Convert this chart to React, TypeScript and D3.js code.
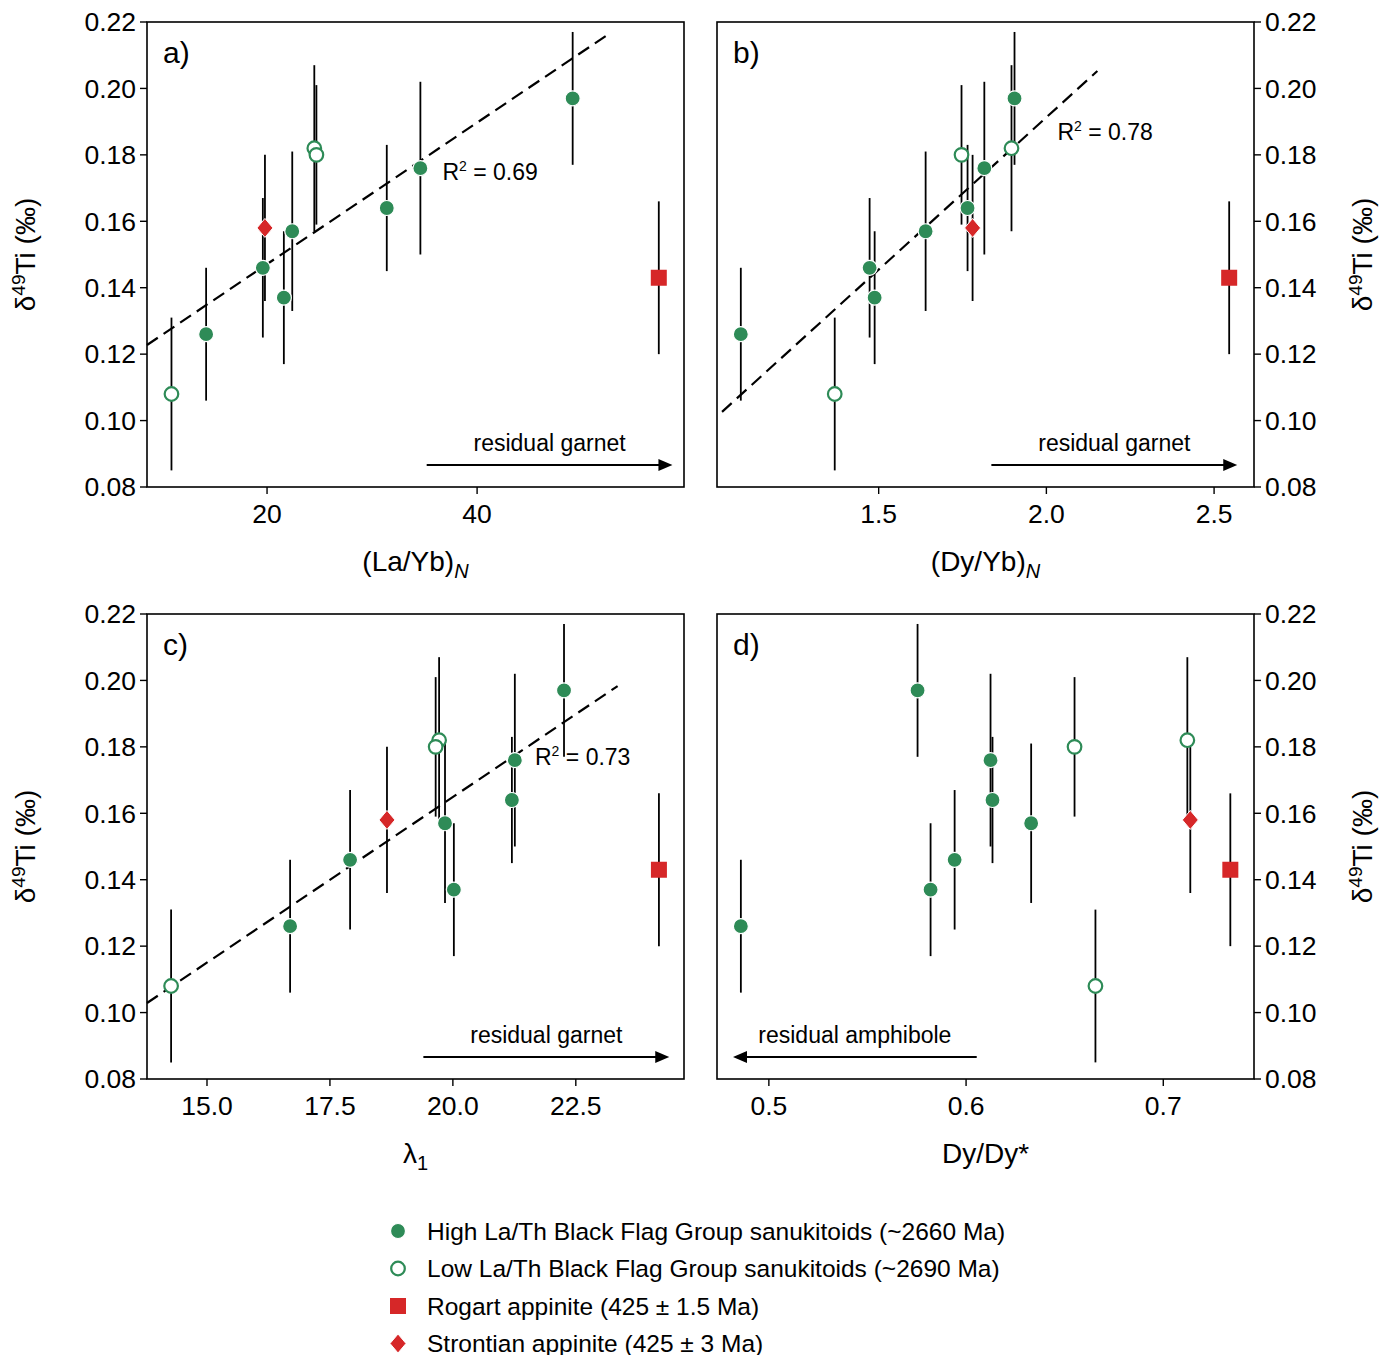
import * as React from "react";
import * as d3 from "d3";

// sample order: S1..S7 (high La/Th), O1..O3 (low La/Th), R (Rogart), D (Strontian)
const groups = ["high","high","high","high","high","high","high","low","low","low","rogart","strontian"];
const d49Ti = [0.126,0.146,0.137,0.157,0.164,0.176,0.197,0.108,0.182,0.180,0.143,0.158];
const errLo = [0.106,0.125,0.117,0.133,0.145,0.150,0.177,0.085,0.157,0.159,0.120,0.136];
const errHi = [0.146,0.167,0.157,0.181,0.183,0.202,0.217,0.131,0.207,0.201,0.166,0.180];
const laYb = [14.2,19.6,21.6,22.4,31.4,34.6,49.1,10.9,24.5,24.7,57.3,19.8];
const dyYb = [1.089,1.473,1.488,1.640,1.765,1.815,1.905,1.369,1.896,1.747,2.545,1.780];
const lambda1 = [16.69,17.91,20.02,19.84,21.20,21.26,22.26,14.27,19.72,19.65,24.19,18.66];
const dyDy = [0.4858,0.5942,0.582,0.633,0.6134,0.6124,0.5754,0.6656,0.7122,0.655,0.734,0.7137];
const yTicks = [0.08,0.10,0.12,0.14,0.16,0.18,0.20,0.22];
const legendLabels = [
  "High La/Th Black Flag Group sanukitoids (~2660 Ma)",
  "Low La/Th Black Flag Group sanukitoids (~2690 Ma)",
  "Rogart appinite (425 ± 1.5 Ma)",
  "Strontian appinite (425 ± 3 Ma)",
];
const legendGroups = ["high","low","rogart","strontian"];

const GREEN = "#2e8b57";
const RED = "#d62728";
const FONT = "Liberation Sans, Arial, sans-serif";

const panels = [
  { id: "a)", xs: laYb, dom: [8.57, 59.7], ticks: [20, 40], fmt: (v: number) => String(v), left: 147, top: 22, rightAxis: false,
    fit: { x: [8.57, 52.5], m: 0.00213, b: 0.1045 }, r2: "0.69", r2pos: [36.7, 0.1725], xl: "(La/Yb)", sub: "N", subItalic: true,
    arrow: { from: 35.2, to: 58.6, text: "residual garnet" } },
  { id: "b)", xs: dyYb, dom: [1.018, 2.619], ticks: [1.5, 2.0, 2.5], fmt: (v: number) => v.toFixed(1), left: 717, top: 22, rightAxis: true,
    fit: { x: [1.033, 2.152], m: 0.0917, b: 0.0079 }, r2: "0.78", r2pos: [2.033, 0.1845], xl: "(Dy/Yb)", sub: "N", subItalic: true,
    arrow: { from: 1.836, to: 2.569, text: "residual garnet" } },
  { id: "c)", xs: lambda1, dom: [13.78, 24.7], ticks: [15, 17.5, 20, 22.5], fmt: (v: number) => v.toFixed(1), left: 147, top: 614, rightAxis: false,
    fit: { x: [13.78, 23.35], m: 0.00997, b: -0.0345 }, r2: "0.73", r2pos: [21.67, 0.1745], xl: "λ", sub: "1", subItalic: false,
    arrow: { from: 19.4, to: 24.4, text: "residual garnet" } },
  { id: "d)", xs: dyDy, dom: [0.4737, 0.746], ticks: [0.5, 0.6, 0.7], fmt: (v: number) => v.toFixed(1), left: 717, top: 614, rightAxis: true,
    fit: null, r2: null, r2pos: null, xl: "Dy/Dy*", sub: "", subItalic: false,
    arrow: { from: 0.6054, to: 0.4818, text: "residual amphibole" } },
];

const W = 537, H = 465;

function Marker({ g, x, y }: { g: string; x: number; y: number }) {
  if (g === "high") return <circle cx={x} cy={y} r={7.5} fill={GREEN} stroke="white" strokeWidth={1.2} />;
  if (g === "low") return <circle cx={x} cy={y} r={6.8} fill="white" stroke={GREEN} strokeWidth={2.2} />;
  if (g === "rogart") return <rect x={x - 8} y={y - 8} width={16} height={16} fill={RED} />;
  return <path d={`M${x},${y - 9.5}L${x + 8},${y}L${x},${y + 9.5}L${x - 8},${y}Z`} fill={RED} stroke="white" strokeWidth={1} />;
}

export default function App() {
  return (
    <svg width={1386} height={1355} style={{ position: "absolute", left: 0, top: 0 }} fontFamily={FONT}>
      <rect width={1386} height={1355} fill="white" />
      {panels.map((p) => {
        const x = d3.scaleLinear().domain(p.dom).range([0, W]);
        const y = d3.scaleLinear().domain([0.08, 0.22]).range([H, 0]);
        const ax = p.rightAxis ? W : 0;
        const dir = p.rightAxis ? 1 : -1;
        const ay = y(0.08) - 22;
        return (
          <g key={p.id} transform={`translate(${p.left},${p.top})`}>
            {p.fit && (
              <line x1={x(p.fit.x[0])} y1={y(p.fit.m * p.fit.x[0] + p.fit.b)} x2={x(p.fit.x[1])} y2={y(p.fit.m * p.fit.x[1] + p.fit.b)}
                stroke="black" strokeWidth={2.2} strokeDasharray="13,7" />
            )}
            {p.xs.map((v, i) => (
              <line key={"e" + i} x1={x(v)} x2={x(v)} y1={y(errLo[i])} y2={y(errHi[i])} stroke="black" strokeWidth={1.8} />
            ))}
            {p.xs.map((v, i) => <Marker key={"m" + i} g={groups[i]} x={x(v)} y={y(d49Ti[i])} />)}
            <rect width={W} height={H} fill="none" stroke="black" strokeWidth={1.6} />
            {yTicks.map((t) => (
              <g key={t}>
                <line x1={ax} x2={ax + dir * 7} y1={y(t)} y2={y(t)} stroke="black" strokeWidth={1.4} />
                <text x={ax + dir * 11} y={y(t)} dy="0.35em" fontSize={26.5} textAnchor={p.rightAxis ? "start" : "end"}>{t.toFixed(2)}</text>
              </g>
            ))}
            {p.ticks.map((t) => (
              <g key={t}>
                <line x1={x(t)} x2={x(t)} y1={H} y2={H + 7} stroke="black" strokeWidth={1.4} />
                <text x={x(t)} y={H + 36} fontSize={26.5} textAnchor="middle">{p.fmt(t)}</text>
              </g>
            ))}
            <text x={16} y={41} fontSize={30}>{p.id}</text>
            {p.r2 && (
              <text x={x(p.r2pos[0])} y={y(p.r2pos[1])} fontSize={23}>R<tspan fontSize={14} dy={-9}>2</tspan><tspan dy={9}> = {p.r2}</tspan></text>
            )}
            <line x1={x(p.arrow.from)} x2={x(p.arrow.to) - (p.arrow.to > p.arrow.from ? 12 : -12)} y1={ay} y2={ay} stroke="black" strokeWidth={2.2} />
            <path d={p.arrow.to > p.arrow.from
              ? `M${x(p.arrow.to)},${ay}L${x(p.arrow.to) - 14},${ay - 6}L${x(p.arrow.to) - 14},${ay + 6}Z`
              : `M${x(p.arrow.to)},${ay}L${x(p.arrow.to) + 14},${ay - 6}L${x(p.arrow.to) + 14},${ay + 6}Z`} fill="black" />
            <text x={(x(p.arrow.from) + x(p.arrow.to)) / 2} y={ay - 14} fontSize={23} textAnchor="middle">{p.arrow.text}</text>
            <text x={W / 2} y={H + 84} fontSize={28} textAnchor="middle">
              {p.xl}
              {p.sub && <tspan fontSize={20} dy={7} fontStyle={p.subItalic ? "italic" : "normal"}>{p.sub}</tspan>}
            </text>
            <text transform={`translate(${p.rightAxis ? W + 118 : -112},${H / 2}) rotate(-90)`} fontSize={28} textAnchor="middle">
              δ<tspan fontSize={19} dy={-10}>49</tspan><tspan dy={10}>Ti (‰)</tspan>
            </text>
          </g>
        );
      })}
      {legendLabels.map((l, i) => (
        <g key={l}>
          <Marker g={legendGroups[i]} x={398} y={1231 + i * 37.5} />
          <text x={427} y={1231 + i * 37.5} dy="0.35em" fontSize={24.5}>{l}</text>
        </g>
      ))}
    </svg>
  );
}
